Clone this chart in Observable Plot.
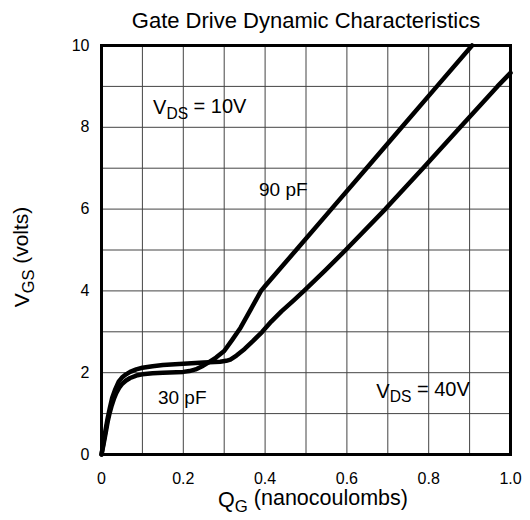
<!DOCTYPE html>
<html>
<head>
<meta charset="utf-8">
<script src="https://cdn.jsdelivr.net/npm/d3@7"></script>
<script src="https://cdn.jsdelivr.net/npm/@observablehq/plot@0.6"></script>
<style>
  html, body { margin: 0; padding: 0; background: #fff; }
  #chart svg { display: block; }
</style>
</head>
<body>
<div id="chart"></div>
<script>
// ---- Data ----
const titleText = "Gate Drive Dynamic Characteristics";
const xLabelText = "Q{G} (nanocoulombs)";
const yLabelText = "V{GS} (volts)";

// VDS = 10V curve (steeper, reaches 10 V)
const qA = [0, 0.005, 0.01, 0.015, 0.02, 0.025, 0.03, 0.036, 0.043, 0.05, 0.06, 0.07, 0.085, 0.1, 0.125, 0.15, 0.2, 0.215, 0.23, 0.245, 0.26, 0.28, 0.3, 0.32, 0.34, 0.365, 0.39, 0.4, 0.476, 0.562, 0.648, 0.734, 0.82, 0.906];
const vA = [0, 0.25, 0.52, 0.8, 1.02, 1.2, 1.35, 1.5, 1.63, 1.72, 1.81, 1.87, 1.93, 1.96, 1.985, 2.0, 2.02, 2.04, 2.08, 2.15, 2.24, 2.37, 2.53, 2.81, 3.1, 3.55, 4.0, 4.12, 5, 6, 7, 8, 9, 10];

// VDS = 40V curve
const qB = [0, 0.005, 0.01, 0.015, 0.02, 0.026, 0.033, 0.042, 0.05, 0.06, 0.07, 0.085, 0.1, 0.125, 0.15, 0.2, 0.25, 0.29, 0.305, 0.315, 0.33, 0.35, 0.37, 0.393, 0.415, 0.44, 0.47, 0.495, 0.547, 0.597, 0.694, 0.786, 0.877, 0.968, 1.0];
const vB = [0, 0.3, 0.6, 0.88, 1.12, 1.38, 1.58, 1.78, 1.88, 1.96, 2.02, 2.08, 2.12, 2.16, 2.19, 2.22, 2.25, 2.27, 2.29, 2.32, 2.42, 2.58, 2.77, 3.0, 3.25, 3.5, 3.77, 4.0, 4.5, 5, 6, 7, 8, 9, 9.33];

const xTicks = [0, 0.2, 0.4, 0.6, 0.8, 1.0];
const xTickLabels = ["0", "0.2", "0.4", "0.6", "0.8", "1.0"];
const yTicks = [0, 2, 4, 6, 8, 10];
const yTickLabels = ["0", "2", "4", "6", "8", "10"];
const xGrid = [0.1, 0.2, 0.3, 0.4, 0.5, 0.6, 0.7, 0.8, 0.9];
const yGrid = [1, 2, 3, 4, 5, 6, 7, 8, 9];

const annText = ["V{DS} = 10V", "90 pF", "30 pF", "V{DS} = 40V"];
const annX = [0.126, 0.385, 0.138, 0.672];
const annY = [8.47, 6.48, 1.38, 1.55];
const annSize = [20, 19, 19, 20];

// ---- Build ----
const curveA = qA.map((q, i) => ({q, v: vA[i]}));
const curveB = qB.map((q, i) => ({q, v: vB[i]}));
const ann = annText.map((t, i) => ({t, x: annX[i], y: annY[i], s: annSize[i]}));

const font = "'Liberation Sans', Arial, Helvetica, sans-serif";

const chart = Plot.plot({
  width: 530,
  height: 520,
  marginLeft: 101,
  marginRight: 20,
  marginTop: 45,
  marginBottom: 66,
  style: {fontFamily: font, background: "#fff", color: "#000"},
  x: {domain: [0, 1]},
  y: {domain: [0, 10]},
  marks: [
    Plot.gridX(xGrid, {stroke: "#444", strokeOpacity: 1, strokeWidth: 1}),
    Plot.gridY(yGrid, {stroke: "#444", strokeOpacity: 1, strokeWidth: 1}),
    Plot.axisX(xTicks, {tickSize: 0, tickPadding: 18, fontSize: 16, label: null,
      tickFormat: (d, i) => xTickLabels[i]}),
    Plot.axisY(yTicks, {tickSize: 0, tickPadding: 12, fontSize: 16, label: null,
      tickFormat: (d, i) => yTickLabels[i]}),
    Plot.line(curveA, {x: "q", y: "v", stroke: "#000", strokeWidth: 4.5, strokeLinejoin: "round", curve: "linear"}),
    Plot.line(curveB, {x: "q", y: "v", stroke: "#000", strokeWidth: 4.5, strokeLinejoin: "round", curve: "linear"}),
    Plot.text(ann, {x: "x", y: "y", text: "t", textAnchor: "start", fontSize: "s", fill: "#000"}),
    Plot.text([titleText], {frameAnchor: "top", lineAnchor: "bottom", dy: -18, fontSize: 22, fill: "#000"}),
    Plot.text([xLabelText], {frameAnchor: "bottom", lineAnchor: "bottom", textAnchor: "middle", dy: 52, dx: 7, fontSize: 21.5, fill: "#000"}),
    Plot.text([yLabelText], {frameAnchor: "left", textAnchor: "middle", dx: -79, dy: 7, rotate: -90, fontSize: 21, fill: "#000"}),
    Plot.frame({stroke: "#000", strokeWidth: 3})
  ]
});

// subscripts: "A{B}C" -> A, subscript B, C
d3.select(chart).selectAll("text").each(function() {
  if (this.querySelector("tspan")) return;
  const t = this.textContent;
  const m = t.match(/^(.*?)\{(.+?)\}(.*)$/);
  if (!m) return;
  const sel = d3.select(this);
  sel.text(null);
  sel.append("tspan").text(m[1]);
  sel.append("tspan").attr("dy", "0.3em").attr("font-size", "0.78em").text(m[2]);
  sel.append("tspan").attr("dy", "-0.3em").text(m[3]);
});

document.getElementById("chart").appendChild(chart);
</script>
</body>
</html>
